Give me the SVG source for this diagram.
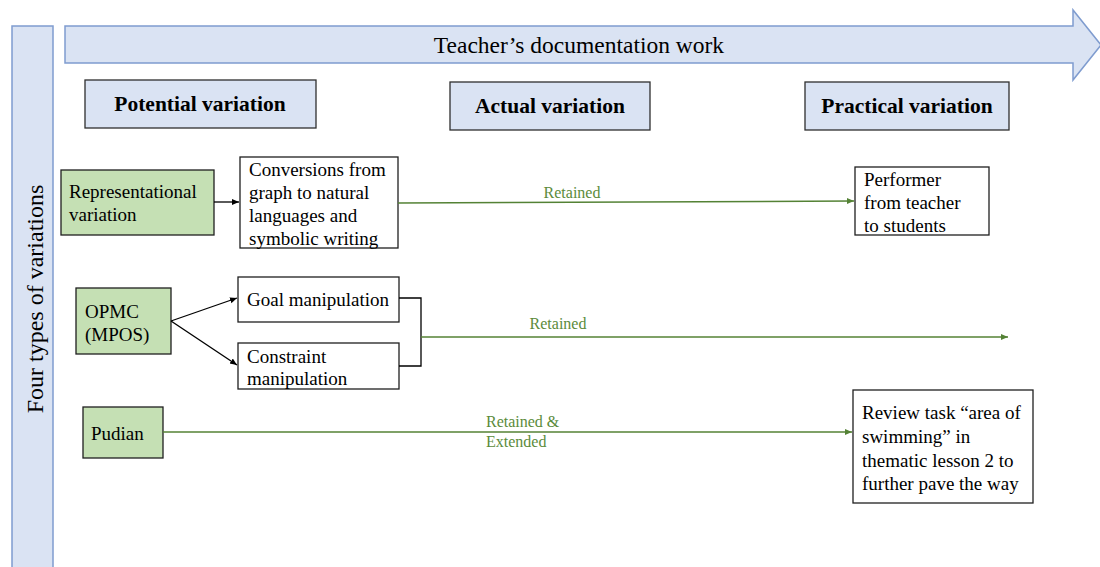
<svg xmlns="http://www.w3.org/2000/svg" width="1100" height="567" viewBox="0 0 1100 567">
<style>
text{font-family:"Liberation Serif","Times New Roman",serif;fill:#000}
.hdr{fill:#dae3f3;stroke:#2f2f2f;stroke-width:1.3}
.grn{fill:#c5e0b4;stroke:#1f1f1f;stroke-width:1.3}
.wht{fill:#fff;stroke:#1f1f1f;stroke-width:1.3}
.b{font-weight:bold;font-size:21.5px}
.t{font-size:19px}
.lbl{font-size:16px;fill:#5b8b3b}
.blk{stroke:#000;stroke-width:1.3;fill:none}
.gl{stroke:#548235;stroke-width:1.5;fill:none}
</style>
<defs>
<marker id="ab" markerWidth="8" markerHeight="8" refX="7" refY="4" orient="auto" markerUnits="userSpaceOnUse"><path d="M0,1 L7,4 L0,7 z" fill="#000"/></marker>
<marker id="ag" markerWidth="8" markerHeight="8" refX="7" refY="4" orient="auto" markerUnits="userSpaceOnUse"><path d="M0,1 L7,4 L0,7 z" fill="#548235"/></marker>
</defs>
<rect width="1100" height="567" fill="#fff"/>
<g id="timeline">
<path d="M65,26 L1073,26 L1073,10 L1101,45 L1073,80 L1073,63 L65,63 z" fill="#dae3f3" stroke="#7f9ccf" stroke-width="1.5"/>
<text x="579" y="53" text-anchor="middle" font-size="23.5">Teacher’s documentation work</text>
</g>
<g id="types-bar">
<rect x="12" y="26" width="41" height="545" fill="#dae3f3" stroke="#7f9ccf" stroke-width="1.5"/>
<text transform="translate(43,299) rotate(-90)" text-anchor="middle" font-size="24">Four types of variations</text>
</g>
<g id="potential"><rect class="hdr" x="85" y="80" width="231" height="48"/><text class="b" x="200" y="111" text-anchor="middle">Potential variation</text></g>
<g id="actual"><rect class="hdr" x="450" y="82" width="200" height="48"/><text class="b" x="550" y="113" text-anchor="middle">Actual variation</text></g>
<g id="practical"><rect class="hdr" x="805" y="82" width="204" height="48"/><text class="b" x="907" y="113" text-anchor="middle">Practical variation</text></g>
<g id="representational"><rect class="grn" x="61" y="170" width="153" height="65"/><text class="t" x="69" y="198">Representational</text><text class="t" x="69" y="221">variation</text></g>
<g id="opmc"><rect class="grn" x="76" y="288" width="95" height="66"/><text class="t" x="85" y="318">OPMC</text><text class="t" x="85" y="341">(MPOS)</text></g>
<g id="pudian"><rect class="grn" x="83" y="407" width="80" height="51"/><text class="t" x="91" y="440">Pudian</text></g>
<g id="conversions"><rect class="wht" x="240" y="157" width="158" height="91"/>
<text class="t" x="249" y="176">Conversions from</text><text class="t" x="249" y="199">graph to natural</text><text class="t" x="249" y="222">languages and</text><text class="t" x="249" y="245">symbolic writing</text></g>
<g id="goal"><rect class="wht" x="238" y="277" width="161" height="45"/><text class="t" x="247" y="306">Goal manipulation</text></g>
<g id="constraint"><rect class="wht" x="238" y="343" width="161" height="46"/><text class="t" x="247" y="363">Constraint</text><text class="t" x="247" y="385">manipulation</text></g>
<g id="performer"><rect class="wht" x="855" y="167" width="134" height="68"/><text class="t" x="864" y="186">Performer</text><text class="t" x="864" y="209">from teacher</text><text class="t" x="864" y="232">to students</text></g>
<g id="review"><rect class="wht" x="853" y="390" width="180" height="113"/>
<text class="t" x="862" y="419">Review task “area of</text><text class="t" x="862" y="443">swimming” in</text><text class="t" x="862" y="467">thematic lesson 2 to</text><text class="t" x="862" y="490">further pave the way</text></g>
<g id="connectors">
<line class="blk" x1="214" y1="202" x2="239" y2="202" marker-end="url(#ab)"/>
<line class="blk" x1="171" y1="321" x2="237" y2="298" marker-end="url(#ab)"/>
<line class="blk" x1="171" y1="321" x2="237" y2="365" marker-end="url(#ab)"/>
<path class="blk" d="M399,298 L421,298 L421,366 L399,366"/>
<line class="gl" x1="398" y1="203" x2="854" y2="201" marker-end="url(#ag)"/>
<line class="gl" x1="421" y1="337" x2="1008" y2="337" marker-end="url(#ag)"/>
<line class="gl" x1="163" y1="432" x2="852" y2="432" marker-end="url(#ag)"/>
<text class="lbl" x="572" y="198" text-anchor="middle">Retained</text>
<text class="lbl" x="558" y="329" text-anchor="middle">Retained</text>
<text class="lbl" x="486" y="427">Retained &amp;</text>
<text class="lbl" x="486" y="447">Extended</text>
</g>
</svg>
